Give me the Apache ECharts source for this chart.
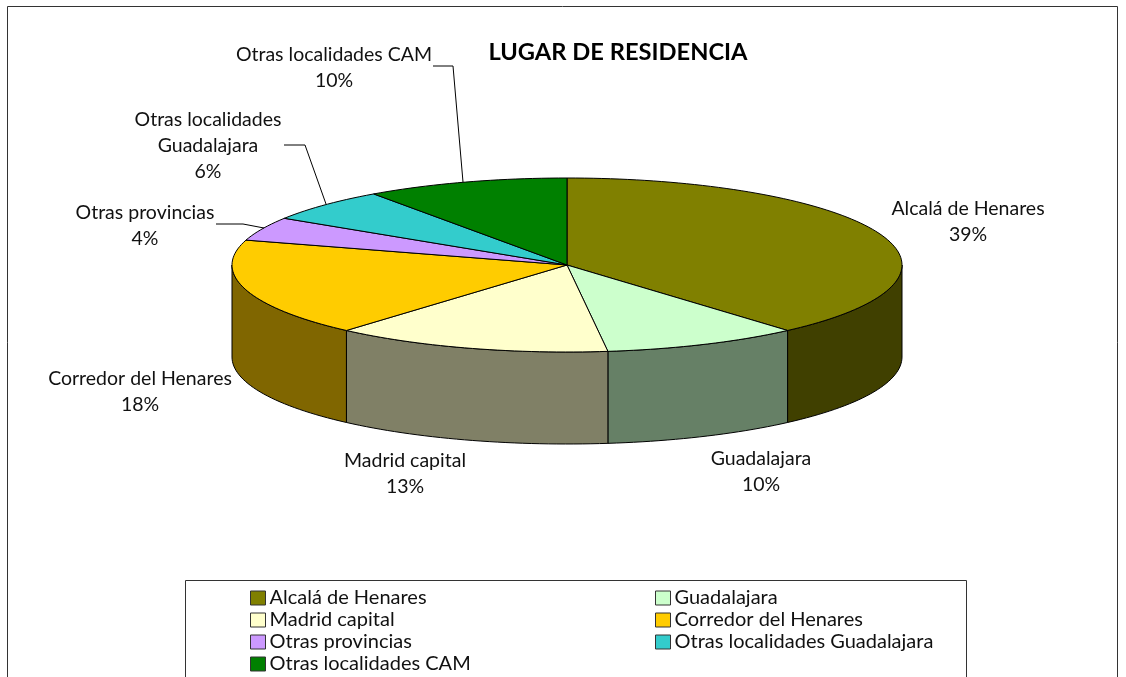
<!DOCTYPE html>
<html>
<head>
<meta charset="utf-8">
<style>html,body{margin:0;padding:0;background:#fff}#graph{width:1126px;height:677px}</style>
<script src="https://cdn.jsdelivr.net/npm/echarts@6/dist/echarts.min.js"></script>
</head>
<body>
<div id="graph"></div>
<script>
"use strict"

const titleText = "LUGAR DE RESIDENCIA";
const categories = ["Alcalá de Henares", "Guadalajara", "Madrid capital", "Corredor del Henares", "Otras provincias", "Otras localidades Guadalajara", "Otras localidades CAM"];
// shares estimated from the slice edges, they round to the printed percentages
const shares = [38.6, 9.5, 13.4, 18.2, 4.4, 6.2, 9.8];
const labelLines = [["Alcalá de Henares"], ["Guadalajara"], ["Madrid capital"], ["Corredor del Henares"], ["Otras provincias"], ["Otras localidades", "Guadalajara"], ["Otras localidades CAM"]];
const topColors = ["#808000", "#CCFFCC", "#FFFFCC", "#FFCC00", "#CC99FF", "#33CCCC", "#008000"];
const wallColors = ["#404000", "#668066", "#808066", "#806600", "#664D80", "#1A6666", "#004000"];

const legendLeft = ["Alcalá de Henares", "Madrid capital", "Otras provincias", "Otras localidades CAM"];
const legendRight = ["Guadalajara", "Corredor del Henares", "Otras localidades Guadalajara"];

// layout
const pie = { cx: 567, cy: 265, rx: 335, ry: 87, depth: 92 };
const labelPos = [[968, 221.5], [761, 472], [405, 474], [140, 392], [145, 226], [208, 146], [334, 68]];
const leaders = [null, null, null, null,
    [[216, 224], [243, 224], [264, 228]],
    [[284, 145], [305, 145], [326, 204]],
    [[433, 66], [453, 66], [463, 182]]];
const FONT = "Lato";

const total = shares.reduce((a, b) => a + b, 0);

function pt(deg, dy)
{
    const r = deg * Math.PI / 180;
    return [pie.cx + pie.rx * Math.sin(r), pie.cy - pie.ry * Math.cos(r) + (dy || 0)];
}

function arc(a, b, dy)
{
    const pts = [];
    const n = Math.max(2, Math.ceil((b - a) / 1.5));
    for (let i = 0; i <= n; i++)
        pts.push(pt(a + (b - a) * i / n, dy));
    return pts;
}

function renderSlice(idx)
{
    const start = shares.slice(0, idx).reduce((a, b) => a + b, 0) / total * 360;
    const end = start + shares[idx] / total * 360;
    const children = [];
    const stroke = { stroke: "#000", lineWidth: 1 };

    // outer wall, only the part facing the viewer
    const wa = Math.max(start, 90), wb = Math.min(end, 270);
    if (wb > wa)
    {
        const pts = arc(wa, wb, 0).concat(arc(wa, wb, pie.depth).reverse());
        children.push({ type: "polygon", shape: { points: pts }, style: { fill: wallColors[idx], ...stroke } });
    }
    children.push({
        type: "polygon",
        shape: { points: [[pie.cx, pie.cy]].concat(arc(start, end, 0)) },
        style: { fill: topColors[idx], ...stroke }
    });
    if (leaders[idx])
        children.push({ type: "polyline", shape: { points: leaders[idx] }, style: { fill: null, stroke: "#000", lineWidth: 1 } });
    children.push({
        type: "text",
        x: labelPos[idx][0], y: labelPos[idx][1],
        style: {
            text: labelLines[idx].concat(Math.round(shares[idx]) + "%").join("\n"),
            font: `19.5px ${FONT}`, lineHeight: 26, fill: "#111", align: "center", verticalAlign: "middle"
        }
    });
    return { type: "group", children };
}

const series = categories.map((name, i) => ({
    name,
    type: "custom",
    coordinateSystem: "none",
    silent: true,
    z: 2 + (i >= 4 ? 1 : 0),
    itemStyle: { color: topColors[i] },
    data: [[shares[i]]],
    renderItem: () => renderSlice(i)
}));

const legendBase = {
    orient: "vertical",
    top: 588,
    height: 100,
    icon: "rect",
    itemWidth: 15,
    itemHeight: 14,
    itemGap: 2,
    padding: 0,
    selectedMode: false,
    itemStyle: { borderColor: "#333", borderWidth: 1 },
    textStyle: { fontFamily: FONT, fontSize: 20, lineHeight: 17, color: "#111", padding: [0, 0, 0, -1] }
};

const myChart = echarts.init(document.getElementById("graph"), null, { renderer: "canvas" });
myChart.setOption({
    animation: false,
    backgroundColor: "#fff",
    title: {
        text: titleText, left: 618, top: 52, textAlign: "center", textVerticalAlign: "middle", padding: 0,
        textStyle: { fontFamily: FONT, fontWeight: "bold", fontSize: 23.7, color: "#000" }
    },
    legend: [
        { ...legendBase, left: 250, data: legendLeft },
        { ...legendBase, left: 655, data: legendRight }
    ],
    graphic: [
        { type: "polyline", silent: true, z: 0, shape: { points: [[7.5, 690], [7.5, 6.5], [1117.5, 6.5], [1117.5, 690]] }, style: { fill: null, stroke: "#333", lineWidth: 1 } },
        { type: "polyline", silent: true, z: 0, shape: { points: [[185.5, 690], [185.5, 580.5], [966.5, 580.5], [966.5, 690]] }, style: { fill: null, stroke: "#333", lineWidth: 1 } }
    ],
    series
});
</script>
</body>
</html>
